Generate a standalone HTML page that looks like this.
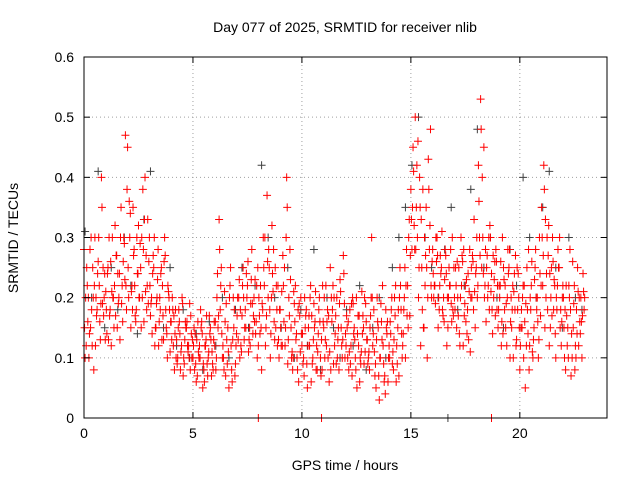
<!DOCTYPE html>
<html><head><meta charset="utf-8"><style>
body{margin:0;background:#fff;}
svg text{font-family:"Liberation Sans",sans-serif;font-size:14px;fill:#000;}
</style></head><body>
<svg id="chart" width="640" height="480" xmlns="http://www.w3.org/2000/svg">
<text x="345" y="32" text-anchor="middle">Day 077 of 2025, SRMTID for receiver nlib</text>
<text x="345" y="470" text-anchor="middle">GPS time / hours</text>
<text transform="translate(18,238) rotate(-90)" text-anchor="middle">SRMTID / TECUs</text>
<g id="grid"></g><g id="pts"></g><g id="axes"></g>
</svg>
<script>
const xTicks=[0,5,10,15,20];
const yTicks=[0,0.1,0.2,0.3,0.4,0.5,0.6];
const yTickLabels=["0","0.1","0.2","0.3","0.4","0.5","0.6"];
const redValuesA=[.28,.12,.2,.15,.25,.3,.18,.22,.4,.17,.21,.25,.18,.3,.22,.27,.2,.35,.26,.47,.45,.3,.22,.28,.18,.32,.25,.38,.4,.22,.3,.2,.25,.15,.28,.18,.22,.3,.14,.2,.16,.12,.18,.1,.14,.2,.09,.15,.12,.17,.1,.14,.07,.12,.16,.08,.13,.1,.15,.09,.12,.2,.33,.25,.1,.07,.15,.22,.06,.18,.14,.2,.12,.25,.18,.22,.15,.28,.2,.16,.12,.22,.18,.3,.37,.25,.2,.28,.15,.22,.18,.12,.25,.4,.2,.15,.1,.22,.08,.17,.12,.07,.18,.15,.22,.1,.16,.08,.2,.13,.15,.22,.1,.25,.18,.12,.2,.08,.15,.27,.14,.1,.18,.07,.15,.2,.12,.09,.17,.11,.13,.08,.3,.18,.05,.15,.1,.22,.07,.14,.12,.18,.08,.22,.15,.25,.1,.2,.28,.3,.38,.45,.5,.3,.4,.25,.15,.35,.43,.48,.28,.22,.3,.18,.25,.2,.27,.15,.22,.3,.2,.15,.25,.3,.12,.22,.18,.28,.2,.33,.25,.42,.53,.3,.22,.27,.18,.24,.2,.28,.15,.22,.3,.18,.12,.25,.2,.1,.27,.18,.08,.15,.22,.12,.28,.18,.1,.25,.2,.3,.35,.42,.2,.27,.15,.3,.22,.18,.25,.12,.2,.08,.15,.28,.1,.22,.18,.12,.2,.24];
const redValuesB=[.1,.22,.14,.18,.08,.2,.26,.13,.19,.24,.14,.3,.12,.2,.17,.24,.13,.22,.29,.18,.2,.15,.35,.17,.24,.2,.3,.16,.27,.19,.17,.24,.12,.2,.16,.25,.13,.18,.22,.11,.2,.08,.13,.18,.11,.07,.16,.12,.19,.1,.15,.06,.11,.18,.05,.12,.09,.17,.07,.13,.08,.15,.18,.1,.21,.13,.05,.12,.2,.09,.2,.1,.17,.13,.24,.11,.19,.14,.23,.1,.17,.08,.25,.15,.2,.1,.24,.13,.18,.1,.12,.22,.15,.09,.28,.11,.19,.14,.06,.2,.09,.15,.05,.12,.17,.19,.08,.14,.1,.22,.1,.16,.06,.2,.09,.17,.13,.23,.1,.19,.17,.08,.12,.19,.1,.14,.06,.21,.09,.16,.1,.17,.12,.07,.2,.03,.16,.09,.18,.06,.16,.09,.2,.12,.07,.18,.14,.1,.22,.17,.28,.32,.35,.2,.12,.38,.22,.1,.28,.2,.2,.3,.15,.27,.18,.23,.12,.25,.19,.17,.25,.2,.12,.27,.17,.23,.13,.2,.26,.15,.2,.3,.25,.45,.16,.22,.3,.14,.26,.18,.22,.12,.25,.15,.28,.1,.18,.24,.13,.2,.15,.22,.05,.18,.12,.26,.15,.2,.1,.17,.22,.15,.3,.12,.25,.18,.1,.28,.15,.2,.1,.17,.22,.07,.15,.12,.25,.16,.1,.18];
const redValuesC=[.15,.25,.1,.3,.2,.12,.24,.16,.35,.2,.18,.13,.26,.2,.32,.15,.24,.19,.3,.22,.25,.34,.18,.22,.3,.2,.15,.28,.21,.33,.22,.14,.3,.19,.12,.24,.17,.27,.1,.18,.13,.17,.1,.15,.08,.19,.13,.16,.1,.14,.12,.09,.16,.1,.14,.06,.17,.11,.13,.08,.16,.24,.28,.14,.08,.19,.11,.25,.13,.07,.17,.23,.11,.2,.15,.26,.12,.19,.16,.22,.2,.15,.3,.12,.26,.18,.32,.16,.22,.13,.15,.27,.12,.35,.17,.1,.21,.13,.18,.11,.14,.2,.09,.17,.06,.13,.21,.11,.16,.08,.2,.12,.17,.08,.22,.14,.1,.19,.12,.24,.12,.16,.09,.2,.13,.05,.17,.11,.15,.19,.09,.15,.2,.11,.13,.07,.19,.12,.04,.16,.1,.2,.13,.06,.18,.22,.12,.25,.17,.33,.33,.41,.28,.46,.35,.18,.3,.25,.38,.22,.24,.19,.27,.22,.31,.16,.24,.2,.28,.18,.18,.26,.14,.22,.28,.16,.24,.11,.27,.21,.3,.36,.48,.24,.28,.2,.32,.18,.23,.26,.18,.26,.14,.22,.2,.28,.15,.21,.12,.24,.12,.2,.16,.25,.08,.22,.13,.28,.16,.24,.3,.38,.24,.32,.2,.26,.14,.22,.3,.16,.15,.22,.1,.18,.26,.08,.14,.2,.16,.21];
const redValuesD=[.2,.16,.28,.12,.22,.17,.3,.19,.25,.13,.24,.17,.21,.15,.27,.19,.3,.16,.23,.38,.36,.21,.27,.16,.24,.29,.2,.33,.18,.26,.19,.27,.15,.23,.2,.13,.26,.15,.21,.16,.18,.14,.09,.16,.12,.1,.15,.11,.08,.13,.08,.13,.1,.15,.09,.12,.07,.14,.11,.16,.1,.17,.22,.12,.16,.09,.2,.08,.15,.12,.13,.18,.22,.15,.2,.13,.23,.17,.14,.25,.14,.19,.22,.17,.28,.14,.21,.25,.12,.18,.21,.16,.3,.13,.23,.08,.16,.1,.19,.14,.1,.17,.12,.2,.09,.15,.12,.18,.07,.16,.13,.18,.11,.16,.2,.09,.15,.21,.13,.1,.15,.11,.19,.14,.08,.17,.1,.14,.2,.13,.11,.2,.14,.09,.16,.1,.13,.06,.15,.1,.14,.11,.17,.09,.2,.14,.18,.22,.15,.27,.35,.28,.42,.25,.33,.15,.27,.2,.32,.26,.22,.26,.2,.24,.17,.28,.2,.22,.16,.25,.22,.17,.2,.26,.19,.14,.21,.25,.18,.24,.22,.27,.4,.2,.25,.3,.21,.27,.17,.22,.2,.16,.23,.19,.24,.16,.22,.18,.25,.15,.18,.1,.19,.14,.2,.11,.23,.18,.13,.22,.27,.33,.18,.24,.17,.23,.2,.25,.18,.22,.18,.12,.2,.14,.19,.1,.21,.14,.17,.2];
const blackValues=[.31,.2,.41,.15,.25,.18,.3,.22,.14,.33,.41,.2,.15,.25,.12,.18,.1,.14,.08,.16,.12,.2,.1,.18,.25,.15,.22,.42,.3,.2,.15,.25,.1,.18,.12,.28,.08,.2,.15,.1,.18,.12,.22,.08,.15,.2,.1,.25,.3,.35,.42,.5,.3,.25,.2,.28,.35,.18,.22,.38,.48,.25,.3,.2,.15,.28,.22,.4,.3,.2,.35,.41,.25,.15,.3,.2,.18];
const redZeroTimes=[8.0,10.9,18.7];
const blackZeroTimes=[16.7];
const redStep=0.1, blackStep=0.3;
const X0=84,X1=607,Y0=418,Y1=57,XMAX=24,YMAX=0.6;
const xs=v=>X0+(X1-X0)*v/XMAX, ys=v=>Y0-(Y0-Y1)*v/YMAX;
const NS="http://www.w3.org/2000/svg";
function mk(tag,attrs,parent){const e=document.createElementNS(NS,tag);for(const k in attrs)e.setAttribute(k,attrs[k]);parent.appendChild(e);return e;}
const grid=document.getElementById('grid'),axes=document.getElementById('axes'),pts=document.getElementById('pts');
xTicks.forEach((t,i)=>{const x=xs(t);
 if(t>0){const g=mk('line',{x1:x,x2:x,y1:Y0,y2:Y1,stroke:'#a0a0a0','stroke-dasharray':'1,3'},grid);
 
 }
 mk('line',{x1:x,x2:x,y1:Y0,y2:Y0-6,stroke:'#000'},axes);mk('line',{x1:x,x2:x,y1:Y1,y2:Y1+6,stroke:'#000'},axes);
 const tx=mk('text',{x:x,y:Y0+20,'text-anchor':'middle'},axes);tx.textContent=String(t);
 
 });
yTicks.forEach((t,i)=>{const y=ys(t);
 if(t>0&&t<0.6){const g=mk('line',{x1:X0,x2:X1,y1:y,y2:y,stroke:'#a0a0a0','stroke-dasharray':'1,3'},grid);
 
 }
 mk('line',{x1:X0,x2:X0+6,y1:y,y2:y,stroke:'#000'},axes);mk('line',{x1:X1,x2:X1-6,y1:y,y2:y,stroke:'#000'},axes);
 const tx=mk('text',{x:X0-10,y:y+5,'text-anchor':'end'},axes);tx.textContent=yTickLabels[i];
 
 });
const frame=mk('rect',{x:X0,y:Y1,width:X1-X0,height:Y0-Y1,fill:'none',stroke:'#000'},axes);


function plus(t,v,c,name){const x=xs(t),y=ys(v);
 const p=mk('path',{d:`M${x-4},${y}h8M${x},${y-4}v8`,stroke:c,'stroke-width':1,fill:'none'},pts);
 
 }
blackValues.forEach((v,i)=>plus(i*blackStep+0.05,v,'#404040','black-point'));
blackZeroTimes.forEach(t=>plus(t,0,'#404040','black-point'));
redValuesA.forEach((v,i)=>plus(i*redStep,v,'#ff0000','red-point'));
redValuesB.forEach((v,i)=>plus(i*redStep+0.05,v,'#ff0000','red-point'));
redValuesC.forEach((v,i)=>plus(i*redStep+0.025,v,'#ff0000','red-point'));
redValuesD.forEach((v,i)=>plus(i*redStep+0.075,v,'#ff0000','red-point'));
redZeroTimes.forEach(t=>plus(t,0,'#ff0000','red-point'));
</script>
</body></html>
